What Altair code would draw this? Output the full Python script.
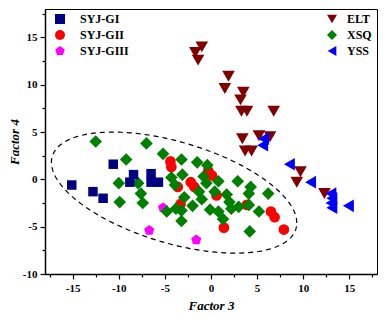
import altair as alt
import numpy as np
import pandas as pd

# ---------------- data ----------------
SYJ_GI_x = [-15.1, -12.8, -11.7, -10.6, -8.4, -8.8, -6.5, -6.5, -5.7]
SYJ_GI_y = [-0.6, -1.3, -2.0, 1.6, 0.5, -0.3, 0.6, -0.3, -0.3]

SYJ_GII_x = [-4.4, -4.3, -3.6, -2.2, -1.8, -0.3, 0.1, 0.6, -3.3, 3.9, 1.4, 6.5, 6.9, 7.9]
SYJ_GII_y = [1.9, 1.3, -0.8, -0.3, -0.8, 0.9, 0.4, -1.7, -2.6, -2.7, -5.1, -3.4, -4.0, -5.3]

SYJ_GIII_x = [-6.7, -5.2, -1.6]
SYJ_GIII_y = [-5.4, -3.0, -6.4]

XSQ_x = [-12.5, -9.2, -10.0, -7.9, -7.6, -9.9, -7.4, -7.0, -5.2, -3.2, -1.5, -0.4,
         -4.3, -3.1, -3.9, -0.5, 0.8, -1.3, 0.4, -2.9, -1.0, -2.0, -0.1, 0.8,
         -4.8, -3.8, -3.2, 1.3, 2.9, 4.3, 1.7, 4.1, 6.2, 2.2, 3.0, 5.2, 4.2,
         -3.2, 4.1, 2.0, -0.8]
XSQ_y = [4.0, 2.1, -0.4, -0.4, -1.5, -2.4, -2.5, 3.8, 2.7, 2.1, 1.8, 1.5,
         0.2, 0.5, -0.6, -0.4, -0.2, -1.3, -1.3, -1.9, -2.1, -2.8, -3.2, -3.4,
         -3.4, -3.1, -4.4, -4.2, -0.2, -0.8, -1.6, -1.5, -1.5, -3.1, -2.9, -3.4, -5.5,
         -3.3, -2.7, -2.4, 0.3]

ELT_x = [-1.0, -1.7, -1.4, 1.9, 1.5, 3.5, 3.2, 3.3, 3.9, 6.8, 3.4, 5.2, 6.4, 3.7, 4.4, 9.7, 9.3, 12.3]
ELT_y = [14.0, 13.4, 12.6, 10.9, 9.6, 9.2, 8.4, 7.2, 7.2, 7.2, 4.3, 4.6, 4.5, 3.0, 3.0, 0.8, -0.3, -1.5]

YSS_x = [5.7, 5.6, 8.5, 10.8, 13.0, 13.1, 13.0, 13.1, 14.9]
YSS_y = [4.3, 3.6, 1.6, -0.3, -1.5, -2.0, -2.5, -3.0, -2.8]

GROUP_A = ["SYJ-GI", "SYJ-GII", "SYJ-GIII"]
GROUP_B = ["ELT", "XSQ", "YSS"]
COLORS_A = ["#000080", "#FF0000", "#FF00FF"]
COLORS_B = ["#800000", "#008000", "#0000FF"]
PENTAGON = "M0,-1L0.951,-0.309L0.588,0.809L-0.588,0.809L-0.951,-0.309Z"
SHAPES_A = ["square", "circle", PENTAGON]
SHAPES_B = ["triangle-down", "diamond", "triangle-left"]

# confidence ellipse (centre, x radius, y components)
ELL_CX, ELL_CY, ELL_RX, ELL_P, ELL_Q = -4.0, -1.4, 13.3, -3.2, 5.54


def frame(name, xs, ys):
    return pd.DataFrame({"x": xs, "y": ys, "series": name})


t = np.linspace(0, 2 * np.pi, 241)
ell = pd.DataFrame({
    "x": ELL_CX + ELL_RX * np.cos(t),
    "y": ELL_CY + ELL_P * np.cos(t) + ELL_Q * np.sin(t),
    "i": np.arange(len(t)),
})

FONT = "Liberation Serif"
cond_tick = {"condition": {"test": "datum.value % 5 === 0", "value": 5}, "value": 3}
lab_expr = "datum.value % 5 === 0 ? toString(datum.value) : ''"

xaxis = alt.Axis(values=list(np.arange(-17.5, 17.6, 2.5)), labelExpr=lab_expr,
                 tickSize=cond_tick, grid=False, title="Factor 3", titlePadding=6)
yaxis = alt.Axis(values=list(np.arange(-10, 17.6, 2.5)), labelExpr=lab_expr,
                 tickSize=cond_tick, grid=False, title="Factor 4", titlePadding=1)

X = alt.X("x:Q", scale=alt.Scale(domain=[-18, 18], nice=False, zero=False), axis=xaxis)
Y = alt.Y("y:Q", scale=alt.Scale(domain=[-10, 18], nice=False, zero=False), axis=yaxis)


def legend(lx, off):
    return alt.Legend(title=None, orient="none", legendX=lx, legendY=4,
                      labelFont=FONT, labelFontSize=12, labelFontWeight="bold",
                      labelColor="black", labelOffset=off, rowPadding=4,
                      padding=0, symbolStrokeWidth=0)


def layer(df, dom, colors, shapes, size, leg):
    return alt.Chart(df).mark_point(filled=True, opacity=1, size=size, strokeWidth=0).encode(
        x=X, y=Y,
        color=alt.Color("series:N", scale=alt.Scale(domain=dom, range=colors), legend=leg),
        shape=alt.Shape("series:N", scale=alt.Scale(domain=dom, range=shapes), legend=leg),
    )


legA = legend(9, 14)
legB = legend(281, 9)

ellipse = alt.Chart(ell).mark_line(color="black", strokeWidth=1.2, strokeDash=[5, 4]).encode(
    x=X, y=Y, order="i:Q")

L1 = layer(pd.concat([frame("SYJ-GII", SYJ_GII_x, SYJ_GII_y),
                      frame("SYJ-GIII", SYJ_GIII_x, SYJ_GIII_y)]),
           GROUP_A, COLORS_A, SHAPES_A, 115, legA)
L2 = layer(frame("XSQ", XSQ_x, XSQ_y), GROUP_B, COLORS_B, SHAPES_B, 160, legB)
L3 = layer(frame("SYJ-GI", SYJ_GI_x, SYJ_GI_y), GROUP_A, COLORS_A, SHAPES_A, 90, None)
L4 = layer(pd.concat([frame("ELT", ELT_x, ELT_y), frame("YSS", YSS_x, YSS_y)]),
           GROUP_B, COLORS_B, SHAPES_B, 160, None)

chart = alt.layer(ellipse, L1, L2, L3, L4).resolve_scale(
    color="independent", shape="independent"
).properties(
    width=371, height=304,
    autosize=alt.AutoSizeParams(type="fit", contains="padding"),
    padding={"left": 0, "top": 1, "right": 2, "bottom": 0},
).configure_view(
    stroke="black", strokeWidth=1
).configure_axis(
    labelFont=FONT, labelFontSize=11, labelFontWeight="bold", labelColor="black",
    labelPadding=3, domainColor="black", domainWidth=1.5, tickColor="black",
    tickWidth=1.2, titleFont=FONT, titleFontSize=13, titleFontWeight="bold",
    titleFontStyle="italic", titleColor="black",
)

chart.save("out.html", embed_options={"renderer": "svg", "actions": False})
